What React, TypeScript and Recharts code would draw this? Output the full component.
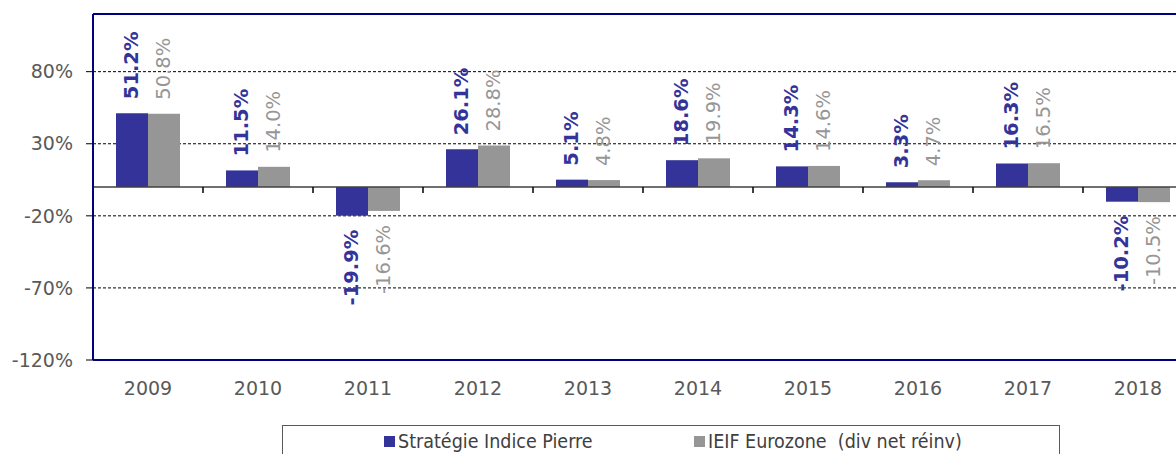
import React from 'react';
import { BarChart, Bar, XAxis, YAxis, CartesianGrid, ReferenceLine, LabelList } from 'recharts';

const years = ['2009', '2010', '2011', '2012', '2013', '2014', '2015', '2016', '2017', '2018'];
const strategie = [51.2, 11.5, -19.9, 26.1, 5.1, 18.6, 14.3, 3.3, 16.3, -10.2];
const ieif = [50.8, 14.0, -16.6, 28.8, 4.8, 19.9, 14.6, 4.7, 16.5, -10.5];
const yTicks = [-120, -70, -20, 30, 80];
const seriesNames = ['Stratégie Indice Pierre', 'IEIF Eurozone  (div net réinv)'];
const seriesColors = ['#333399', '#969696'];

const data = years.map((y, i) => ({ year: y, s: strategie[i], e: ieif[i] }));

const FONT = '"DejaVu Sans", Verdana, sans-serif';
const COND = '"DejaVu Sans Condensed", "DejaVu Sans", sans-serif';

const fmt = (v: number) => `${v.toFixed(1)}%`;

const makeLabel = (color: string, weight: string) => (props: any) => {
  const x = Number(props.x), y = Number(props.y), w = Number(props.width), h = Number(props.height);
  const v = Number(props.value);
  const cx = x + w / 2;
  const top = Math.min(y, y + h);
  const bottom = Math.max(y, y + h);
  const neg = v < 0;
  const ay = neg ? bottom + 14 : top - 14;
  return (
    <text
      x={cx}
      y={ay}
      transform={`rotate(-90 ${cx} ${ay})`}
      textAnchor={neg ? 'end' : 'start'}
      dominantBaseline="central"
      fill={color}
      fontWeight={weight}
      fontSize={19.5}
      fontFamily={FONT}
    >
      {fmt(v)}
    </text>
  );
};

const ZeroLine = (props: any) => {
  const { x1, x2, y1 } = props;
  const n = years.length;
  const w = (x2 - x1) / n;
  const ticks = [];
  for (let i = 1; i < n; i++) {
    const tx = x1 + i * w;
    ticks.push(<line key={i} x1={tx} x2={tx} y1={y1} y2={y1 + 6} stroke="#000" strokeWidth={1.5} />);
  }
  return (
    <g>
      <line x1={x1} x2={x2} y1={y1} y2={y1} stroke="#404040" strokeWidth={1.5} />
      {ticks}
    </g>
  );
};

export default function App() {
  return (
    <div style={{ position: 'fixed', left: 0, top: 0, width: 1176, height: 454, overflow: 'hidden', background: '#fff' }}>
      <div style={{ position: 'absolute', left: 8, top: 8 }}>
        <BarChart
          width={1195}
          height={470}
          data={data}
          margin={{ top: 6, right: 10, bottom: 88, left: 0 }}
          barCategoryGap={23}
          barGap={0}
        >
          <CartesianGrid horizontal vertical={false} stroke="#000" strokeDasharray="3 2" strokeWidth={1} />
          <ReferenceLine y={120} stroke="#000080" strokeWidth={2} />
          <XAxis
            dataKey="year"
            axisLine={{ stroke: '#000080', strokeWidth: 2 }}
            tickLine={false}
            tickSize={20}
            tickMargin={2}
            height={30}
            tick={{ fill: '#595959', fontSize: 19, fontFamily: FONT }}
          />
          <YAxis
            domain={[-120, 120]}
            ticks={yTicks}
            width={85}
            allowDataOverflow
            axisLine={{ stroke: '#000080', strokeWidth: 2 }}
            tickLine={{ stroke: '#000', strokeWidth: 1 }}
            tickSize={7}
            tickMargin={13}
            tickFormatter={(v: number) => `${v}%`}
            tick={{ fill: '#595959', fontSize: 19, fontFamily: FONT }}
          />
          <Bar dataKey="s" name={seriesNames[0]} fill={seriesColors[0]} isAnimationActive={false}>
            <LabelList dataKey="s" content={makeLabel('#333399', 'bold')} />
          </Bar>
          <Bar dataKey="e" name={seriesNames[1]} fill={seriesColors[1]} isAnimationActive={false}>
            <LabelList dataKey="e" content={makeLabel('#969696', 'normal')} />
          </Bar>
          <ReferenceLine y={0} shape={ZeroLine} />
        </BarChart>
        <div
          style={{
            position: 'absolute',
            left: 274,
            top: 417,
            width: 778,
            height: 40,
            border: '1.5px solid #595959',
            boxSizing: 'border-box',
            fontFamily: COND,
            fontSize: 19.5,
            color: '#404040',
          }}
        >
          {seriesNames.map((name, i) => (
            <div
              key={name}
              style={{
                position: 'absolute',
                left: i === 0 ? 101 : 411,
                top: 4,
                display: 'flex',
                alignItems: 'center',
                whiteSpace: 'pre',
              }}
            >
              <span style={{ display: 'inline-block', width: 11, height: 11, background: seriesColors[i], marginRight: 3 }} />
              <span>{name}</span>
            </div>
          ))}
        </div>
      </div>
    </div>
  );
}
